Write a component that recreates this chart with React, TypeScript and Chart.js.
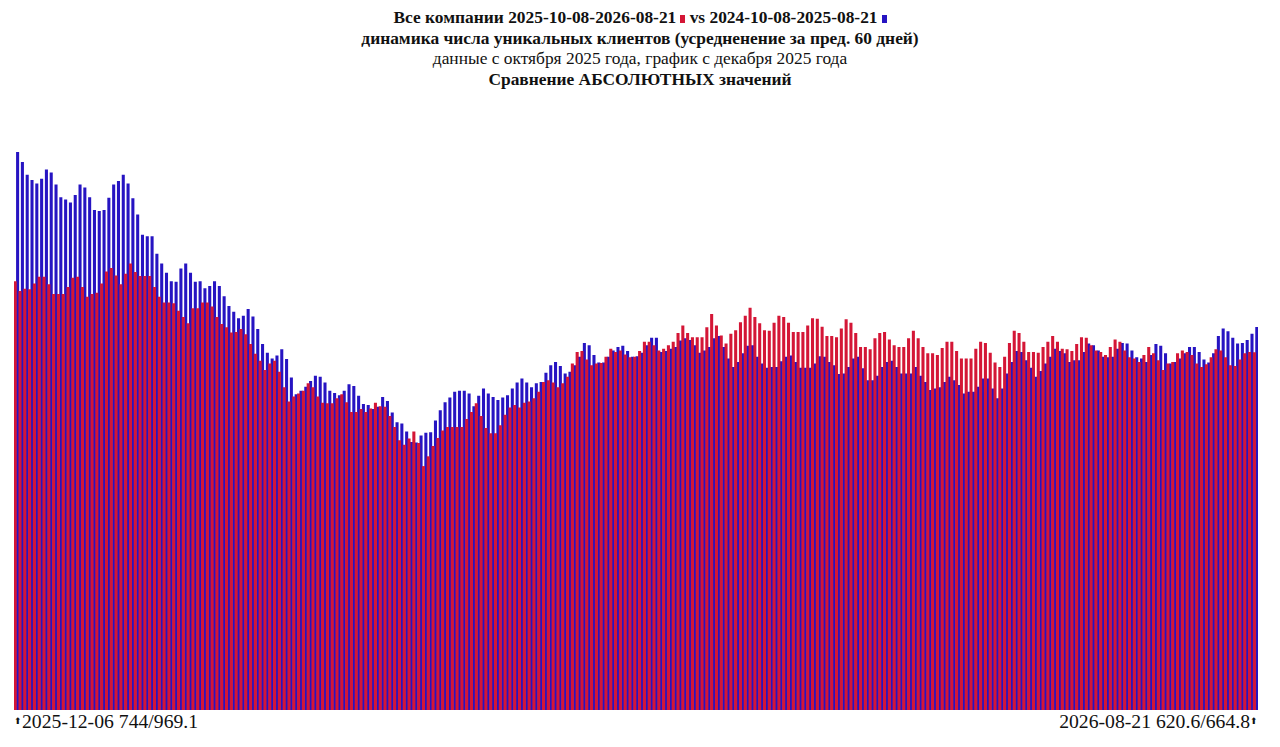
import { useEffect, useRef } from "react"
import { Chart, registerables } from "chart.js"

Chart.register(...registerables)

// period 2025-12-06 .. 2026-08-21, one bar pair per day
const firstDay = "2025-12-06"
const lastDay = "2026-08-21"

// 2025-10-08-2026-08-21 (red)
const currentPeriod = [
  744, 727, 731, 730, 740, 752, 752, 739, 722, 722, 722, 734, 750, 752, 734, 717, 722, 724, 740, 761,
  767, 754, 739, 757, 775, 760, 753, 753, 753, 734, 717, 707, 707, 706, 693, 682, 671, 697, 697, 707,
  707, 700, 682, 670, 664, 655, 656, 661, 652, 635, 618, 606, 590, 601, 606, 587, 560, 535, 544, 549,
  554, 567, 560, 544, 533, 532, 532, 541, 548, 534, 517, 517, 522, 517, 523, 533, 527, 526, 510, 491,
  468, 460, 471, 483, 463, 423, 440, 458, 472, 485, 491, 491, 491, 491, 505, 517, 532, 510, 489, 480,
  480, 494, 512, 525, 529, 525, 533, 535, 541, 552, 569, 572, 568, 560, 567, 578, 601, 621, 623, 608,
  598, 601, 602, 613, 627, 621, 624, 617, 612, 613, 623, 639, 639, 633, 624, 627, 633, 639, 654, 667,
  654, 647, 647, 647, 664, 687, 667, 650, 636, 653, 659, 673, 684, 698, 682, 671, 659, 658, 672, 684,
  682, 672, 656, 656, 656, 667, 680, 679, 665, 649, 649, 647, 662, 678, 672, 654, 630, 630, 626, 645,
  654, 656, 643, 633, 630, 630, 645, 658, 645, 630, 619, 619, 616, 628, 639, 639, 623, 610, 610, 610,
  627, 639, 637, 620, 603, 595, 613, 637, 658, 654, 639, 621, 621, 620, 630, 639, 649, 639, 627, 626,
  623, 635, 647, 646, 633, 624, 621, 616, 630, 643, 639, 624, 612, 610, 604, 616, 630, 619, 607, 590,
  601, 604, 619, 624, 621, 616, 601, 595, 600, 612, 626, 624, 612, 598, 597, 608, 619, 621, 620.6,
]

// 2024-10-08-2025-08-21 (blue)
const previousPeriod = [
  969.1, 951, 929, 920, 914, 922, 938, 933, 912, 890, 886, 881, 894, 912, 907, 890, 868, 866, 868, 889,
  912, 918, 929, 914, 888, 860, 825, 822, 822, 792, 775, 759, 744, 743, 766, 775, 759, 743, 744, 732,
  736, 744, 736, 718, 701, 691, 680, 684, 696, 683, 661, 635, 620, 610, 615, 626, 609, 577, 548, 554,
  561, 571, 580, 578, 568, 554, 550, 546, 554, 565, 562, 545, 531, 529, 522, 526, 543, 536, 516, 499,
  497, 483, 465, 464, 476, 481, 482, 502, 520, 534, 542, 552, 554, 554, 549, 527, 545, 558, 549, 543,
  538, 542, 546, 558, 568, 575, 568, 560, 567, 569, 585, 598, 604, 597, 584, 587, 598, 613, 637, 633,
  616, 603, 603, 613, 624, 630, 632, 623, 613, 614, 620, 633, 646, 646, 621, 623, 627, 630, 641, 645,
  642, 633, 620, 624, 630, 645, 649, 630, 610, 595, 604, 619, 632, 633, 613, 601, 594, 595, 595, 605,
  613, 615, 604, 594, 594, 594, 601, 614, 613, 604, 598, 583, 584, 595, 610, 613, 593, 572, 572, 580,
  595, 604, 606, 595, 584, 584, 584, 595, 580, 569, 555, 558, 560, 569, 578, 572, 564, 549, 552, 552,
  561, 575, 575, 558, 541, 558, 584, 604, 623, 621, 607, 594, 578, 588, 601, 613, 627, 623, 619, 604,
  607, 607, 621, 636, 633, 624, 613, 612, 613, 627, 637, 636, 624, 612, 610, 604, 616, 635, 632, 619,
  601, 604, 610, 619, 630, 630, 621, 608, 603, 619, 649, 662, 657, 646, 636, 637, 642, 653, 664.8,
]

const titleLines = [
  "динамика числа уникальных клиентов (усредненение за пред. 60 дней)",
  "данные с октября 2025 года, график с декабря 2025 года",
  "Сравнение АБСОЛЮТНЫХ значений",
]

const RED = "#d41636"
const BLUE = "#2614c2"

function dayLabels(from: string, count: number) {
  const out: string[] = []
  const d = new Date(from + "T00:00:00Z")
  for (let i = 0; i < count; i++) {
    out.push(d.toISOString().slice(0, 10))
    d.setUTCDate(d.getUTCDate() + 1)
  }
  return out
}

const labels = dayLabels(firstDay, currentPeriod.length)

function BarsChart() {
  const canvasRef = useRef<HTMLCanvasElement>(null)
  const chartRef = useRef<Chart | null>(null)

  useEffect(() => {
    if (!canvasRef.current) return
    if (chartRef.current) chartRef.current.destroy()

    chartRef.current = new Chart(canvasRef.current, {
      type: "bar",
      data: {
        labels,
        datasets: [
          { label: "current", data: currentPeriod, backgroundColor: RED, borderWidth: 0 },
          { label: "previous", data: previousPeriod, backgroundColor: BLUE, borderWidth: 0 },
        ],
      },
      options: {
        animation: false,
        responsive: false,
        maintainAspectRatio: false,
        layout: { padding: 0 },
        datasets: { bar: { categoryPercentage: 1, barPercentage: 1 } },
        plugins: { legend: { display: false }, tooltip: { enabled: false } },
        scales: {
          x: { display: false, offset: true },
          y: { display: false, min: 0, max: Math.max(...previousPeriod) },
        },
      },
    })

    return () => {
      if (chartRef.current) {
        chartRef.current.destroy()
        chartRef.current = null
      }
    }
  }, [])

  return (
    <canvas
      ref={canvasRef}
      width={1244}
      height={558}
      style={{ position: "absolute", left: 14, top: 152, width: 1244, height: 558 }}
    />
  )
}

export default function App() {
  const mark = (color: string) => (
    <span style={{ display: "inline-block", width: 5, height: 8, background: color, marginLeft: 4 }} />
  )
  const arrow = <span style={{ fontSize: 9, verticalAlign: 4 }}>⬆</span>
  const last = currentPeriod.length - 1
  return (
    <div
      style={{
        position: "absolute",
        left: 0,
        top: 0,
        width: 1280,
        height: 747,
        background: "#fff",
        fontFamily: "'Liberation Serif', 'Times New Roman', serif",
        color: "#111",
      }}
    >
      <div style={{ position: "absolute", top: 7, left: 0, width: 1280, textAlign: "center", fontSize: 17.4, lineHeight: "20.7px" }}>
        <div style={{ fontWeight: "bold" }}>
          Все компании 2025-10-08-{lastDay}
          {mark(RED)} vs 2024-10-08-2025-08-21{mark(BLUE)}
        </div>
        <div style={{ fontWeight: "bold" }}>{titleLines[0]}</div>
        <div>{titleLines[1]}</div>
        <div style={{ fontWeight: "bold" }}>{titleLines[2]}</div>
      </div>
      <BarsChart />
      <div style={{ position: "absolute", left: 14, top: 710, fontSize: 19.7, whiteSpace: "nowrap" }}>
        {arrow}
        {labels[0]} {currentPeriod[0]}/{previousPeriod[0]}
      </div>
      <div style={{ position: "absolute", right: 22, top: 710, fontSize: 19.7, whiteSpace: "nowrap" }}>
        {labels[last]} {currentPeriod[last]}/{previousPeriod[last]}
        {arrow}
      </div>
    </div>
  )
}
